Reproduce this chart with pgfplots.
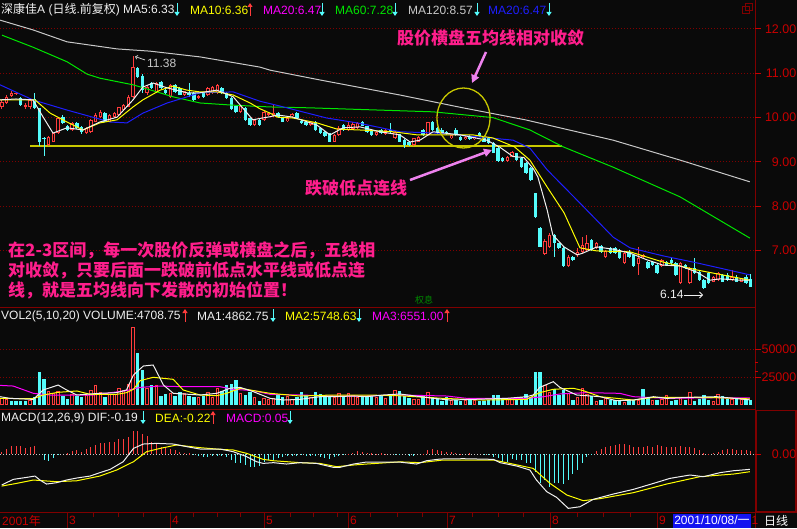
\documentclass[border=0pt]{standalone}
\usepackage{fontspec}
\setmainfont{Liberation Sans}
\newfontfamily\cjk{Noto Sans CJK SC}
\usepackage{pgfplots}
\usepackage{pgfplotstable}
\pgfplotsset{compat=1.18}
\usetikzlibrary{arrows.meta}
\definecolor{bgc}{RGB}{10,10,10}
\definecolor{upred}{RGB}{255,60,60}
\definecolor{dncyan}{RGB}{84,252,252}
\definecolor{maw}{RGB}{240,240,240}
\definecolor{may}{RGB}{255,255,0}
\definecolor{mam}{RGB}{255,0,255}
\definecolor{mag}{RGB}{0,230,0}
\definecolor{magr}{RGB}{200,200,200}
\definecolor{mab}{RGB}{30,30,255}
\definecolor{axred}{RGB}{128,0,0}
\definecolor{labred}{RGB}{200,0,0}
\definecolor{pinkt}{RGB}{255,30,140}
\definecolor{violetA}{RGB}{238,130,238}
\definecolor{supy}{RGB}{200,200,0}
\definecolor{dgreen}{RGB}{0,140,0}
\definecolor{datebl}{RGB}{20,20,240}
\newcommand\fs{\fontsize{12}{14}\selectfont}
\newcommand\fl{\fontsize{12.5}{14}\selectfont}
\newcommand\fp{\fontsize{17}{18}\selectfont\cjk\bfseries}
\newcommand\dn[2]{\draw[dncyan, line width=1pt, -{Triangle[length=4pt,width=5pt]}] (#1,#2-7) -- (#1,#2+6);}
\newcommand\up[2]{\draw[upred, line width=1pt, -{Triangle[length=4pt,width=5pt]}] (#1,#2+6) -- (#1,#2-7);}
\pgfplotsset{panel/.style={anchor=south west, scale only axis, width=755pt,
  xmin=-0.427, xmax=160.9, axis lines=box, axis line style={draw=none}, ticks=none, clip=true}}

\pgfplotstableread{
i o h l c
0 10.23 10.40 10.20 10.36
1 10.32 10.50 10.30 10.47
2 10.49 10.60 10.47 10.56
3 10.53 10.58 10.50 10.56
4 10.44 10.46 10.27 10.29
5 10.25 10.32 10.20 10.29
6 10.25 10.42 10.20 10.40
7 10.42 10.56 10.19 10.21
8 10.21 10.22 9.35 9.46
9 9.54 9.56 9.13 9.52
10 9.38 9.58 9.36 9.56
11 9.46 9.66 9.44 9.65
12 9.65 10.00 9.62 9.98
13 10.02 10.05 9.85 9.87
14 9.81 9.84 9.70 9.72
15 9.72 9.90 9.70 9.87
16 9.87 9.90 9.74 9.76
17 9.78 9.80 9.62 9.68
18 9.65 9.78 9.64 9.76
19 9.68 9.97 9.66 9.95
20 9.91 10.10 9.90 10.06
21 10.02 10.16 10.00 10.13
22 10.10 10.12 9.89 9.91
23 9.91 10.08 9.90 10.06
24 10.02 10.12 10.00 10.10
25 10.06 10.25 10.05 10.23
26 10.17 10.30 10.15 10.29
27 10.25 10.50 10.24 10.47
28 10.47 11.38 10.45 11.15
29 11.11 11.14 10.90 10.92
30 10.94 10.98 10.55 10.62
31 10.55 10.72 10.52 10.70
32 10.77 10.80 10.64 10.66
33 10.58 10.80 10.56 10.77
34 10.80 10.82 10.64 10.66
35 10.62 10.64 10.53 10.55
36 10.47 10.76 10.45 10.74
37 10.74 10.76 10.56 10.58
38 10.66 10.70 10.50 10.51
39 10.51 10.60 10.49 10.59
40 10.55 10.77 10.47 10.50
41 10.55 10.57 10.38 10.40
42 10.45 10.52 10.42 10.48
43 10.55 10.57 10.45 10.47
44 10.51 10.68 10.49 10.66
45 10.55 10.72 10.53 10.70
46 10.55 10.76 10.53 10.74
47 10.66 10.68 10.53 10.55
48 10.55 10.57 10.42 10.44
49 10.44 10.46 10.17 10.19
50 10.26 10.28 10.11 10.13
51 10.13 10.28 10.11 10.26
52 10.21 10.23 9.93 9.95
53 9.98 10.00 9.81 9.83
54 9.83 9.97 9.81 9.95
55 9.95 9.97 9.81 9.83
56 9.95 10.15 9.93 10.13
57 10.06 10.12 10.04 10.10
58 10.04 10.30 10.02 10.10
59 10.10 10.12 10.00 10.02
60 10.00 10.02 9.89 9.91
61 9.93 10.00 9.91 9.98
62 10.03 10.10 10.00 10.08
63 10.10 10.12 9.96 9.98
64 9.93 9.95 9.85 9.87
65 9.91 9.93 9.80 9.83
66 9.83 9.93 9.80 9.91
67 9.91 9.93 9.70 9.72
68 9.76 9.78 9.63 9.65
69 9.68 9.70 9.56 9.58
70 9.65 9.66 9.44 9.46
71 9.46 9.63 9.44 9.61
72 9.61 9.80 9.59 9.76
73 9.83 9.85 9.70 9.72
74 9.72 9.91 9.70 9.83
75 9.74 9.90 9.72 9.86
76 9.76 9.89 9.74 9.87
77 9.91 9.93 9.80 9.82
78 9.80 9.82 9.66 9.68
79 9.72 9.74 9.59 9.61
80 9.61 9.70 9.59 9.68
81 9.72 9.74 9.63 9.65
82 9.63 9.75 9.61 9.73
83 9.72 9.87 9.66 9.68
84 9.53 9.70 9.51 9.68
85 9.62 9.64 9.44 9.46
86 9.49 9.51 9.31 9.38
87 9.46 9.48 9.36 9.38
88 9.38 9.55 9.36 9.53
89 9.46 9.59 9.44 9.57
90 9.72 9.74 9.59 9.61
91 9.61 9.91 9.59 9.89
92 9.91 9.93 9.70 9.72
93 9.76 9.78 9.63 9.65
94 9.72 9.76 9.63 9.65
95 9.68 9.70 9.61 9.63
96 9.53 9.63 9.51 9.61
97 9.72 9.76 9.59 9.61
98 9.57 9.59 9.47 9.49
99 9.51 9.58 9.49 9.56
100 9.58 9.60 9.49 9.51
101 9.51 9.58 9.49 9.56
102 9.66 9.68 9.57 9.59
103 9.57 9.59 9.44 9.46
104 9.53 9.55 9.40 9.42
105 9.43 9.45 9.19 9.21
106 9.31 9.33 8.99 9.01
107 9.08 9.10 8.99 9.01
108 9.01 9.14 8.99 9.12
109 9.12 9.25 9.10 9.23
110 9.19 9.21 9.02 9.04
111 9.08 9.10 8.87 8.89
112 8.97 8.99 8.72 8.74
113 8.86 8.88 8.57 8.59
114 8.29 8.30 7.74 7.76
115 7.50 7.52 7.07 7.09
116 6.92 7.25 6.90 7.22
117 7.09 7.40 7.05 7.35
118 7.35 7.37 6.86 7.16
119 7.16 7.18 7.03 7.05
120 7.05 7.07 6.62 6.64
121 6.64 6.90 6.62 6.86
122 6.86 6.88 6.77 6.79
123 6.90 7.05 6.86 6.97
124 6.97 7.31 6.95 7.12
125 7.01 7.35 6.99 7.16
126 7.24 7.26 6.99 7.01
127 7.05 7.20 7.03 7.16
128 7.10 7.12 6.95 6.97
129 6.86 7.01 6.84 6.99
130 7.05 7.09 6.92 6.94
131 7.05 7.07 6.93 6.95
132 7.01 7.03 6.80 6.82
133 6.71 6.96 6.69 6.94
134 6.97 7.01 6.84 6.86
135 6.90 6.92 6.62 6.64
136 6.70 7.09 6.45 6.84
137 6.86 6.92 6.84 6.90
138 6.75 6.77 6.58 6.60
139 6.75 6.77 6.65 6.67
140 6.67 6.69 6.47 6.49
141 6.64 6.81 6.62 6.79
142 6.75 6.77 6.65 6.67
143 6.79 6.86 6.64 6.71
144 6.71 6.73 6.43 6.45
145 6.26 6.73 6.24 6.71
146 6.67 6.69 6.58 6.60
147 6.26 6.62 6.24 6.60
148 6.60 6.82 6.47 6.49
149 6.52 6.54 6.31 6.33
150 6.33 6.35 6.14 6.16
151 6.49 6.51 6.24 6.26
152 6.30 6.43 6.28 6.41
153 6.33 6.51 6.31 6.49
154 6.45 6.47 6.28 6.30
155 6.45 6.49 6.31 6.33
156 6.33 6.56 6.31 6.41
157 6.41 6.45 6.28 6.30
158 6.30 6.39 6.28 6.37
159 6.41 6.45 6.24 6.26
160 6.35 6.47 6.17 6.18
}\candles

\pgfplotstableread{
i v u
0 6200 1
1 5300 1
2 4100 0
3 4100 0
4 4100 0
5 4100 0
6 4700 1
7 7700 0
8 30000 0
9 23500 0
10 13100 1
11 10700 1
12 13100 1
13 8300 0
14 5900 0
15 10100 1
16 8600 0
17 7100 0
18 9200 1
19 13700 1
20 18100 1
21 12200 1
22 7700 0
23 10100 1
24 9800 1
25 15200 1
26 13700 1
27 19000 1
28 70200 1
29 46300 0
30 31300 0
31 15200 1
32 18100 0
33 18100 1
34 8300 0
35 10100 0
36 11300 1
37 8300 0
38 12200 0
39 10700 1
40 8300 0
41 7700 0
42 7700 1
43 8300 0
44 11900 1
45 7700 1
46 15200 1
47 13100 0
48 18100 0
49 19000 0
50 22600 0
51 10700 1
52 9200 0
53 12200 0
54 7700 1
55 4100 0
56 6200 1
57 5300 1
58 6200 1
59 9200 0
60 7100 0
61 8300 1
62 5900 1
63 7700 0
64 12200 0
65 9200 0
66 7100 1
67 12200 0
68 10100 0
69 9200 0
70 8300 0
71 7700 1
72 10700 1
73 8300 0
74 10700 1
75 9200 1
76 7700 1
77 8300 0
78 7100 0
79 8300 0
80 7100 1
81 9200 0
82 6200 1
83 10100 0
84 13700 1
85 13100 0
86 8300 0
87 6500 0
88 5300 1
89 5300 1
90 9200 0
91 11900 1
92 7700 0
93 6800 0
94 4100 0
95 7100 0
96 4700 1
97 4700 0
98 4100 0
99 4700 1
100 4700 0
101 4700 1
102 4100 0
103 4100 0
104 4700 0
105 9200 0
106 9200 0
107 6200 0
108 5300 1
109 6200 1
110 6200 0
111 7700 0
112 10100 0
113 7100 0
114 30000 0
115 30000 0
116 18100 1
117 12200 1
118 14300 0
119 9200 0
120 13700 0
121 10700 1
122 4700 0
123 7100 1
124 15200 1
125 10100 1
126 8300 0
127 4100 1
128 4700 0
129 6200 1
130 4700 0
131 4700 0
132 4700 0
133 3200 1
134 4700 0
135 4700 0
136 4700 1
137 14300 0
138 6200 0
139 4700 1
140 4700 0
141 5300 1
142 9200 1
143 4100 0
144 4700 0
145 7700 1
146 4700 0
147 11900 1
148 4100 0
149 5300 0
150 9200 0
151 4700 0
152 4100 1
153 9800 1
154 8300 0
155 5300 0
156 5300 1
157 5300 0
158 5300 1
159 4700 0
160 4700 0
}\vols

\pgfplotstableread{
i m
0 0.029
1 0.058
2 0.099
3 0.099
4 0.099
5 0.070
6 0.091
7 0.099
8 0.000
9 -0.074
10 -0.087
11 -0.054
12 -0.010
13 0.000
14 0.008
15 0.041
16 0.050
17 0.029
18 0.058
19 0.091
20 0.112
21 0.140
22 0.132
23 0.153
24 0.153
25 0.182
26 0.182
27 0.215
28 0.289
29 0.289
30 0.248
31 0.223
32 0.153
33 0.140
34 0.091
35 0.091
36 0.058
37 0.050
38 0.029
39 0.017
40 0.008
41 -0.008
42 -0.025
43 -0.033
44 -0.033
45 -0.025
46 -0.025
47 -0.025
48 -0.041
49 -0.074
50 -0.107
51 -0.116
52 -0.136
53 -0.157
54 -0.157
55 -0.149
56 -0.095
57 -0.074
58 -0.074
59 -0.054
60 -0.041
61 -0.025
62 -0.020
63 -0.015
64 -0.010
65 -0.015
66 -0.020
67 -0.025
68 -0.041
69 -0.054
70 -0.066
71 -0.041
72 -0.020
73 -0.010
74 0.005
75 0.017
76 0.041
77 0.029
78 0.017
79 0.008
80 0.005
81 0.008
82 0.005
83 0.000
84 -0.005
85 -0.005
86 0.000
87 -0.025
88 -0.017
89 0.000
90 0.005
91 0.050
92 0.058
93 0.050
94 0.041
95 0.029
96 0.020
97 0.017
98 0.005
99 0.000
100 0.008
101 0.000
102 0.000
103 -0.005
104 -0.010
105 -0.033
106 -0.054
107 -0.095
108 -0.095
109 -0.066
110 -0.074
111 -0.074
112 -0.107
113 -0.116
114 -0.219
115 -0.355
116 -0.322
117 -0.413
118 -0.364
119 -0.364
120 -0.372
121 -0.322
122 -0.248
123 -0.198
124 -0.107
125 -0.033
126 -0.005
127 0.041
128 0.058
129 0.091
130 0.099
131 0.112
132 0.124
133 0.124
134 0.112
135 0.091
136 0.091
137 0.091
138 0.099
139 0.082
140 0.112
141 0.099
142 0.091
143 0.091
144 0.091
145 0.099
146 0.091
147 0.082
148 0.070
149 0.050
150 0.008
151 0.005
152 0.017
153 0.029
154 0.050
155 0.058
156 0.058
157 0.050
158 0.050
159 0.050
160 0.041
}\macdh

\begin{document}
\begin{tikzpicture}[x=1pt,y=1pt]
\fill[bgc] (0,0) rectangle (797,528);
\begin{scope}[shift={(0,528)}, yscale=-1]
\foreach \yy in {29.0,73.3,117.6,161.9,206.2,250.5,349.3,377.3}
  \draw[axred, line width=1pt, dash pattern=on 1pt off 2pt] (0,\yy) -- (755,\yy);
\draw[magr, line width=1pt, dash pattern=on 1pt off 2pt] (0,454) -- (755,454);
\end{scope}

% ---------------- price panel ----------------
\begin{axis}[panel, at={(0pt,221pt)}, height=289pt, ymin=5.7246, ymax=12.248]
\addplot[supy, line width=1.3pt] coordinates {(6.0,9.36) (119.7,9.36)};
\addplot[draw=none, error bars/.cd, y dir=both, y explicit, error mark=none,
  error bar style={draw=upred, line width=1pt}]
  table[x=i, y expr={\thisrow{c}>=\thisrow{o} ? (\thisrow{h}+\thisrow{l})/2 : nan},
        y error expr={(\thisrow{h}-\thisrow{l})/2}] {\candles};
\addplot[draw=none, error bars/.cd, y dir=both, y explicit, error mark=none,
  error bar style={draw=dncyan, line width=1pt}]
  table[x=i, y expr={\thisrow{c}<\thisrow{o} ? (\thisrow{h}+\thisrow{l})/2 : nan},
        y error expr={(\thisrow{h}-\thisrow{l})/2}] {\candles};
\addplot[draw=none, error bars/.cd, y dir=both, y explicit, error mark=none,
  error bar style={draw=dncyan, line width=3.4pt}]
  table[x=i, y expr={\thisrow{c}<\thisrow{o} ? (\thisrow{o}+\thisrow{c})/2 : nan},
        y error expr={max(abs(\thisrow{o}-\thisrow{c})/2,0.012)}] {\candles};
\addplot[draw=none, error bars/.cd, y dir=both, y explicit, error mark=none,
  error bar style={draw=upred, line width=3.4pt}]
  table[x=i, y expr={\thisrow{c}>=\thisrow{o} ? (\thisrow{o}+\thisrow{c})/2 : nan},
        y error expr={max(abs(\thisrow{o}-\thisrow{c})/2,0.012)}] {\candles};
\addplot[draw=none, error bars/.cd, y dir=both, y explicit, error mark=none,
  error bar style={draw=bgc, line width=1.4pt}]
  table[x=i, y expr={\thisrow{c}>=\thisrow{o} ? (\thisrow{o}+\thisrow{c})/2 : nan},
        y error expr={max(abs(\thisrow{o}-\thisrow{c})/2-0.0226,0)}] {\candles};
\addplot[magr, line width=1pt] coordinates {(-0.43,12.20) (6.6,11.98) (13.9,11.71) (24.6,11.55) (31.6,11.50) (42.3,11.37) (55.1,11.14) (57.3,11.07) (67.9,10.85) (85.0,10.51) (98.5,10.22) (111.8,9.95) (130.6,9.49) (144.9,9.04) (159.8,8.55)};
\addplot[mag, line width=1pt] coordinates {(0,11.86) (6.6,11.59) (13.9,11.26) (18.2,10.98) (20.9,10.89) (28.0,10.74) (33.1,10.58) (36.5,10.47) (42.3,10.33) (49.4,10.28) (57.3,10.24) (65.8,10.22) (92.1,10.13) (104.9,10.0) (112.8,9.72) (119.9,9.34) (130.6,8.88) (144.9,8.21) (159.8,7.28)};
\addplot[mab, line width=1pt] coordinates {(-0.43,10.74) (6.6,10.40) (13.9,10.17) (23.1,9.90) (26.7,9.88) (30.1,10.10) (35.3,10.33) (38.7,10.44) (42.3,10.56) (49.4,10.58) (55.1,10.37) (59.4,10.26) (69.4,9.99) (75.9,9.88) (80.1,9.79) (85.0,9.68) (92.9,9.65) (104.3,9.54) (109.2,9.49) (112.8,9.31) (116.5,8.82) (123.5,8.07) (130.6,7.30) (134.2,7.06) (141.2,6.88) (148.5,6.72) (159.8,6.45)};
\addplot[may, line width=1pt] coordinates {(-0.43,10.40) (7.05,10.40) (10.3,10.10) (13.9,9.90) (17.3,9.72) (20.9,9.88) (24.6,9.95) (28.0,10.24) (30.1,10.40) (33.8,10.62) (36.5,10.71) (39.5,10.62) (42.3,10.58) (45.9,10.58) (49.4,10.51) (53.0,10.33) (55.1,10.20) (57.3,10.10) (58.8,10.01) (62.2,9.99) (67.3,9.88) (71.6,9.74) (76.5,9.72) (83.5,9.68) (88.7,9.61) (100.6,9.61) (104.9,9.54) (109.5,9.34) (112.8,9.04) (116.5,8.43) (120.1,7.85) (123.5,7.06) (127.1,6.99) (134.2,6.97) (141.2,6.74) (148.5,6.56) (159.8,6.33)};
\addplot[maw, line width=1pt] coordinates {(-0.43,10.40) (3,10.42) (6.6,10.40) (8.8,10.01) (10.9,9.65) (13.9,9.77) (17.3,9.72) (20.9,9.90) (24.6,10.01) (28.0,10.40) (30.1,10.69) (32.3,10.78) (35.3,10.67) (39.5,10.56) (42.3,10.56) (45.9,10.62) (49.4,10.47) (53.6,9.95) (55.1,9.98) (57.3,10.02) (58.8,10.06) (62.2,10.01) (67.3,9.83) (70.1,9.61) (72.9,9.77) (76.5,9.79) (80.8,9.68) (85.0,9.61) (87.2,9.45) (89.3,9.49) (92.1,9.68) (97.9,9.61) (103.6,9.49) (106.4,9.33) (109.2,9.12) (111.5,9.10) (113.5,8.85) (114.5,8.66) (116.5,7.91) (117.7,7.35) (120.1,7.08) (122.9,6.90) (124.1,6.94) (127.1,7.08) (130.6,7.03) (134.2,6.94) (137.8,6.79) (141.2,6.67) (144.9,6.65) (148.5,6.51) (151.3,6.33) (153.4,6.36) (157.7,6.33) (159.8,6.33)};
\end{axis}

% ---------------- volume panel ----------------
\begin{axis}[panel, at={(0pt,119pt)}, height=102pt, ymin=-3300, ymax=87800]
\addplot[draw=none, error bars/.cd, y dir=both, y explicit, error mark=none,
  error bar style={draw=dncyan, line width=3.4pt}]
  table[x=i, y expr={\thisrow{u}<0.5 ? \thisrow{v}/2 : nan}, y error expr={\thisrow{v}/2}] {\vols};
\addplot[draw=none, error bars/.cd, y dir=both, y explicit, error mark=none,
  error bar style={draw=upred, line width=3.4pt}]
  table[x=i, y expr={\thisrow{u}>0.5 ? \thisrow{v}/2 : nan}, y error expr={\thisrow{v}/2}] {\vols};
\addplot[draw=none, error bars/.cd, y dir=both, y explicit, error mark=none,
  error bar style={draw=bgc, line width=1.4pt}]
  table[x=i, y expr={\thisrow{u}>0.5 ? \thisrow{v}/2 : nan}, y error expr={max(\thisrow{v}/2-893,0)}] {\vols};
\addplot[mam, line width=1pt] coordinates {(-0.43,17800) (2.4,17200) (6.7,10700) (10.3,9200) (19.5,9200) (26.6,13100) (29.5,16000) (33.8,17200) (38.7,16600) (46.6,16600) (49.4,14300) (53.7,13100) (57.3,9800) (63.7,9200) (70.8,8300) (77.9,8300) (85.0,9200) (95.0,8300) (99.3,6200) (112.1,6200) (115.7,7700) (119.2,10100) (124.9,11300) (132.0,10700) (134.9,7700) (142.0,6200) (152.7,6800) (159.8,6550)};
\addplot[may, line width=1pt] coordinates {(-0.43,6200) (6.7,5900) (8.8,9200) (12.0,11600) (16.0,12800) (18.8,9800) (24.5,9800) (26.6,11300) (28.1,14300) (29.5,22000) (32.3,25000) (36.6,23200) (38.7,13700) (42.3,9200) (45.9,8600) (48.0,10700) (50.9,15200) (55.1,12200) (57.3,10700) (63.7,8300) (70.8,9200) (77.9,9200) (85.0,8500) (94.3,6200) (102.8,4700) (112.1,5300) (114.9,11300) (117.8,14300) (122.1,15200) (124.2,13100) (127.8,7700) (134.9,4700) (139.2,7100) (145.6,7100) (152.7,6800) (159.8,5750)};
\addplot[maw, line width=1pt] coordinates {(-0.43,7700) (1.7,6200) (6.7,5300) (8.8,13700) (12.0,18100) (13.8,13700) (16.0,9200) (18.8,10100) (20.9,10700) (24.5,11300) (26.6,13700) (28.1,27100) (30.2,35100) (32.3,36000) (34.5,18100) (36.6,10700) (42.3,9200) (45.9,10700) (48.7,15200) (50.9,16000) (53.7,12200) (57.3,6200) (60.1,4700) (63.7,5300) (67.9,7700) (70.8,7700) (75.1,8300) (77.9,7700) (81.5,9200) (85.0,10100) (92.2,6200) (95.7,4700) (107.8,6200) (112.1,7700) (113.5,9200) (114.9,16000) (117.8,21100) (119.2,16000) (122.8,9200) (127.8,7700) (131.3,4100) (134.9,4700) (139.2,7700) (142.0,6200) (147.0,7100) (152.7,7700) (159.8,4860)};
\end{axis}

% ---------------- MACD panel ----------------
\begin{axis}[panel, at={(0pt,15.3pt)}, height=103.7pt, ymin=-0.727, ymax=0.558]
\addplot[draw=none, error bars/.cd, y dir=both, y explicit, error mark=none,
  error bar style={draw=upred, line width=1pt}]
  table[x=i, y expr={\thisrow{m}>0 ? \thisrow{m}/2 : nan}, y error expr={abs(\thisrow{m})/2}] {\macdh};
\addplot[draw=none, error bars/.cd, y dir=both, y explicit, error mark=none,
  error bar style={draw=dncyan, line width=1pt}]
  table[x=i, y expr={\thisrow{m}<0 ? \thisrow{m}/2 : nan}, y error expr={abs(\thisrow{m})/2}] {\macdh};
\addplot[may, line width=1pt] coordinates {(-0.07,-0.397) (3.1,-0.364) (6.7,-0.322) (8.8,-0.331) (11.7,-0.343) (16.0,-0.331) (20.9,-0.273) (24.5,-0.198) (28.1,-0.095) (30.9,0.029) (33.8,0.070) (37.3,0.112) (42.3,0.079) (46.6,0.058) (49.4,0.050) (52.3,0.008) (55.8,-0.066) (58.0,-0.083) (63.7,-0.107) (67.9,-0.116) (71.5,-0.157) (75.1,-0.136) (77.9,-0.124) (85.0,-0.097) (89.3,-0.107) (94.3,-0.074) (105.0,-0.074) (108.5,-0.116) (113.5,-0.178) (117.1,-0.364) (120.7,-0.508) (124.2,-0.578) (127.8,-0.553) (134.9,-0.479) (142.0,-0.372) (149.1,-0.281) (156.3,-0.248) (159.8,-0.219)};
\addplot[maw, line width=1pt] coordinates {(-0.07,-0.384) (2.4,-0.314) (5.3,-0.289) (7.05,-0.273) (8.1,-0.322) (9.5,-0.372) (11.7,-0.355) (13.8,-0.322) (16.0,-0.297) (18.8,-0.273) (20.9,-0.231) (23.1,-0.190) (25.9,-0.095) (28.1,0.070) (30.2,0.124) (33.0,0.132) (36.6,0.124) (39.5,0.091) (42.3,0.062) (46.6,0.062) (49.4,0.029) (52.3,-0.033) (54.4,-0.095) (55.8,-0.116) (58.0,-0.107) (60.8,-0.124) (63.7,-0.107) (67.2,-0.116) (70.8,-0.165) (72.2,-0.165) (75.1,-0.124) (77.9,-0.099) (82.2,-0.099) (85.0,-0.100) (88.6,-0.124) (90.7,-0.083) (93.6,-0.062) (98.6,-0.058) (105.0,-0.066) (106.4,-0.107) (110.0,-0.149) (112.8,-0.198) (114.2,-0.322) (116.4,-0.467) (118.5,-0.537) (121.0,-0.673) (123.5,-0.653) (126.3,-0.562) (130.6,-0.496) (134.9,-0.438) (139.2,-0.364) (142.7,-0.302) (147.0,-0.260) (149.9,-0.281) (153.4,-0.231) (156.3,-0.207) (159.8,-0.190)};
\end{axis}

% ---------------- overlays in pixel coordinates ----------------
\begin{scope}[shift={(0,528)}, yscale=-1]
\draw[axred, line width=1pt] (755,0) -- (755,528);
\draw[axred, line width=1pt] (0,307) -- (755,307);
\draw[axred, line width=1pt] (0,409.5) -- (755,409.5);
\draw[axred, line width=1pt] (0,512.7) -- (797,512.7);
\draw[axred, line width=1.5pt] (756,410.5) rectangle (796,511.5);
\foreach \yy/\lab in {29.0/12.00,73.3/11.00,117.6/10.00,161.9/9.00,206.2/8.00,250.5/7.00,349.3/50000,377.3/25000,454/0.00}{
  \draw[labred, line width=1pt] (755,\yy) -- (761,\yy);
  \node[anchor=east, inner sep=0pt, text=labred, font=\fl] at (796.5,\yy) {\lab};}
\foreach \yy in {362.7,371.7} \draw[labred, line width=1pt] (755,\yy) -- (758,\yy);
\draw[axred, line width=0.8pt] (742,6) rectangle (749,13);
\draw[axred, line width=0.8pt] (745,3.5) rectangle (752,10.5);
\node[anchor=west, inner sep=0pt, text=maw, font=\fs] at (1,10) {{\cjk 深康佳}A ({\cjk 日线}.{\cjk 前复权}) MA5:6.33};
\dn{177}{10}
\node[anchor=west, inner sep=0pt, text=may, font=\fs] at (190,10) {MA10:6.36};
\up{250}{10}
\node[anchor=west, inner sep=0pt, text=mam, font=\fs] at (263,10) {MA20:6.47};
\dn{322}{10}
\node[anchor=west, inner sep=0pt, text=mag, font=\fs] at (335,10) {MA60:7.28};
\dn{395}{10}
\node[anchor=west, inner sep=0pt, text=magr, font=\fs] at (408,10) {MA120:8.57};
\dn{477}{10}
\node[anchor=west, inner sep=0pt, text=mab, font=\fs] at (488,10) {MA20:6.47};
\dn{549}{10}
\node[anchor=west, inner sep=0pt, text=maw, font=\fs] at (1,316) {VOL2(5,10,20) VOLUME:4708.75};
\up{185}{316}
\node[anchor=west, inner sep=0pt, text=maw, font=\fs] at (197,316) {MA1:4862.75};
\dn{273}{316}
\node[anchor=west, inner sep=0pt, text=may, font=\fs] at (285,316) {MA2:5748.63};
\dn{359}{316}
\node[anchor=west, inner sep=0pt, text=mam, font=\fs] at (372,316) {MA3:6551.00};
\up{447}{316}
\node[anchor=west, inner sep=0pt, text=maw, font=\fs] at (1,418) {MACD(12,26,9) DIF:-0.19};
\dn{143}{418}
\node[anchor=west, inner sep=0pt, text=may, font=\fs] at (155,418) {DEA:-0.22};
\up{213}{418}
\node[anchor=west, inner sep=0pt, text=mam, font=\fs] at (226,418) {MACD:0.05};
\dn{290}{418}
\node[anchor=west, inner sep=0pt, text=labred, font=\fs] at (2,520.5) {2001{\cjk 年}};
\foreach \xx/\mm in {67/3,170/4,264/5,348/6,447/7,550/8,657/9}{
  \draw[axred, line width=1pt] (\xx,513) -- (\xx,528);
  \node[anchor=west, inner sep=0pt, text=labred, font=\fs] at (\xx+2,520.5) {\mm};}
\foreach \xx in {93,118,143,193,217,240,290,313,337,370,397,422,472,498,523,577,603,630}
  \draw[axred, line width=1pt] (\xx,513) -- (\xx,517);
\fill[datebl] (673,513.5) rectangle (751,527.5);
\node[inner sep=0pt, text=white, font=\fs] at (712,520.5) {2001/10/08/{\cjk 一}};
\node[anchor=west, inner sep=0pt, text=labred, font=\fs] at (751.5,520.5) {1};
\node[inner sep=0pt, text=white, font=\fs] at (776,520.5) {\cjk 日线};
\node[anchor=west, inner sep=0pt, text=magr, font=\fs] at (147,63) {11.38};
\draw[magr, line width=0.8pt, -{Straight Barb[length=2pt]}] (145,60) -- (135,56.5);
\node[anchor=west, inner sep=0pt, text=maw, font=\fs] at (660,294.5) {6.14};
\draw[maw, line width=0.8pt, -{Straight Barb[length=3pt]}] (684,295) -- (703,295);
\node[inner sep=0pt, text=dgreen, font=\fontsize{9}{10}\selectfont\cjk] at (424,300) {权息};
\draw[supy, line width=1.3pt] (463.5,118) ellipse [x radius=26.5, y radius=30];
\node[anchor=west, inner sep=0pt, text=pinkt, font=\fp] at (397,38) {股价横盘五均线相对收敛};
\draw[violetA, line width=2.5pt, -{Triangle[length=8pt,width=8pt]}] (486,52) -- (472,83);
\node[anchor=west, inner sep=0pt, text=pinkt, font=\fp] at (305,188) {跌破低点连线};
\draw[violetA, line width=2.5pt, -{Triangle[length=8pt,width=8pt]}] (410,180) -- (492,150);
\node[anchor=west, inner sep=0pt, text=pinkt, font=\fp] at (8,250.7) {在2-3区间，每一次股价反弹或横盘之后，五线相};
\node[anchor=west, inner sep=0pt, text=pinkt, font=\fp] at (8,270.7) {对收敛，只要后面一跌破前低点水平线或低点连};
\node[anchor=west, inner sep=0pt, text=pinkt, font=\fp] at (8,290.7) {线，就是五均线向下发散的初始位置！};
\end{scope}
\pgfresetboundingbox
\path[use as bounding box] (0,0) rectangle (797,528);
\end{tikzpicture}
\end{document}
